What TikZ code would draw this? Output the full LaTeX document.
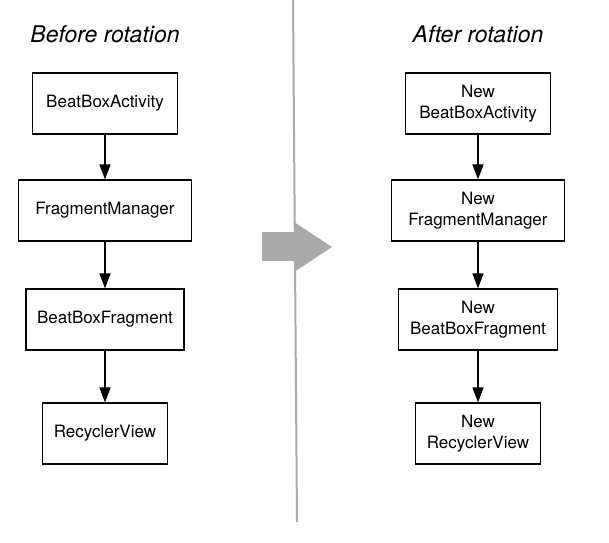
\documentclass[tikz,border=0pt]{standalone}
\usepackage{fontspec}
\setmainfont{TeX Gyre Heros}
\usetikzlibrary{arrows.meta}
\definecolor{ColGray}{RGB}{170,170,170}
\tikzstyle{Title}=[font=\fontsize{23}{27}\selectfont\itshape,inner sep=0pt,anchor=base]
\tikzstyle{NodeBox}=[draw=black,line width=1.2pt,minimum height=61pt,inner sep=0pt,
align=center,font=\fontsize{17}{21}\selectfont]
\tikzstyle{EdgeArrow}=[-{Triangle[length=15pt,width=11pt]},line width=1.5pt]

\begin{document}
\begin{tikzpicture}[x=1pt,y=-1pt]
        \useasboundingbox(0,0)rectangle(609,542);
        \fill[ColGray](262,232)--(294,232)--(294,222)--(332,247)--(294,272)--(294,261)--(262,261)--cycle;
        \draw[ColGray,line width=2pt](293,0)--(297,522);
        \node[Title](tb)at(105,42){Before rotation};
        \node[Title](ta)at(478,42){After rotation};
        \node[NodeBox,minimum width=145pt](a)at(105,103.5){BeatBoxActivity};
        \node[NodeBox,minimum width=173pt](b)at(105,210.5){FragmentManager};
        \node[NodeBox,minimum width=158pt](c)at(105,319.5){BeatBoxFragment};
        \node[NodeBox,minimum width=125pt](d)at(105,433.5){RecyclerView};
        \node[NodeBox,minimum width=145pt](na)at(478,103.5){New\\BeatBoxActivity};
        \node[NodeBox,minimum width=173pt](nb)at(478,210.5){New\\FragmentManager};
        \node[NodeBox,minimum width=159pt](nc)at(478,319.5){New\\BeatBoxFragment};
        \node[NodeBox,minimum width=125pt](nd)at(478,433.5){New\\RecyclerView};
        \draw[EdgeArrow](a)--(b);
        \draw[EdgeArrow](b)--(c);
        \draw[EdgeArrow](c)--(d);
        \draw[EdgeArrow](na)--(nb);
        \draw[EdgeArrow](nb)--(nc);
        \draw[EdgeArrow](nc)--(nd);
    \end{tikzpicture}
\end{document}
